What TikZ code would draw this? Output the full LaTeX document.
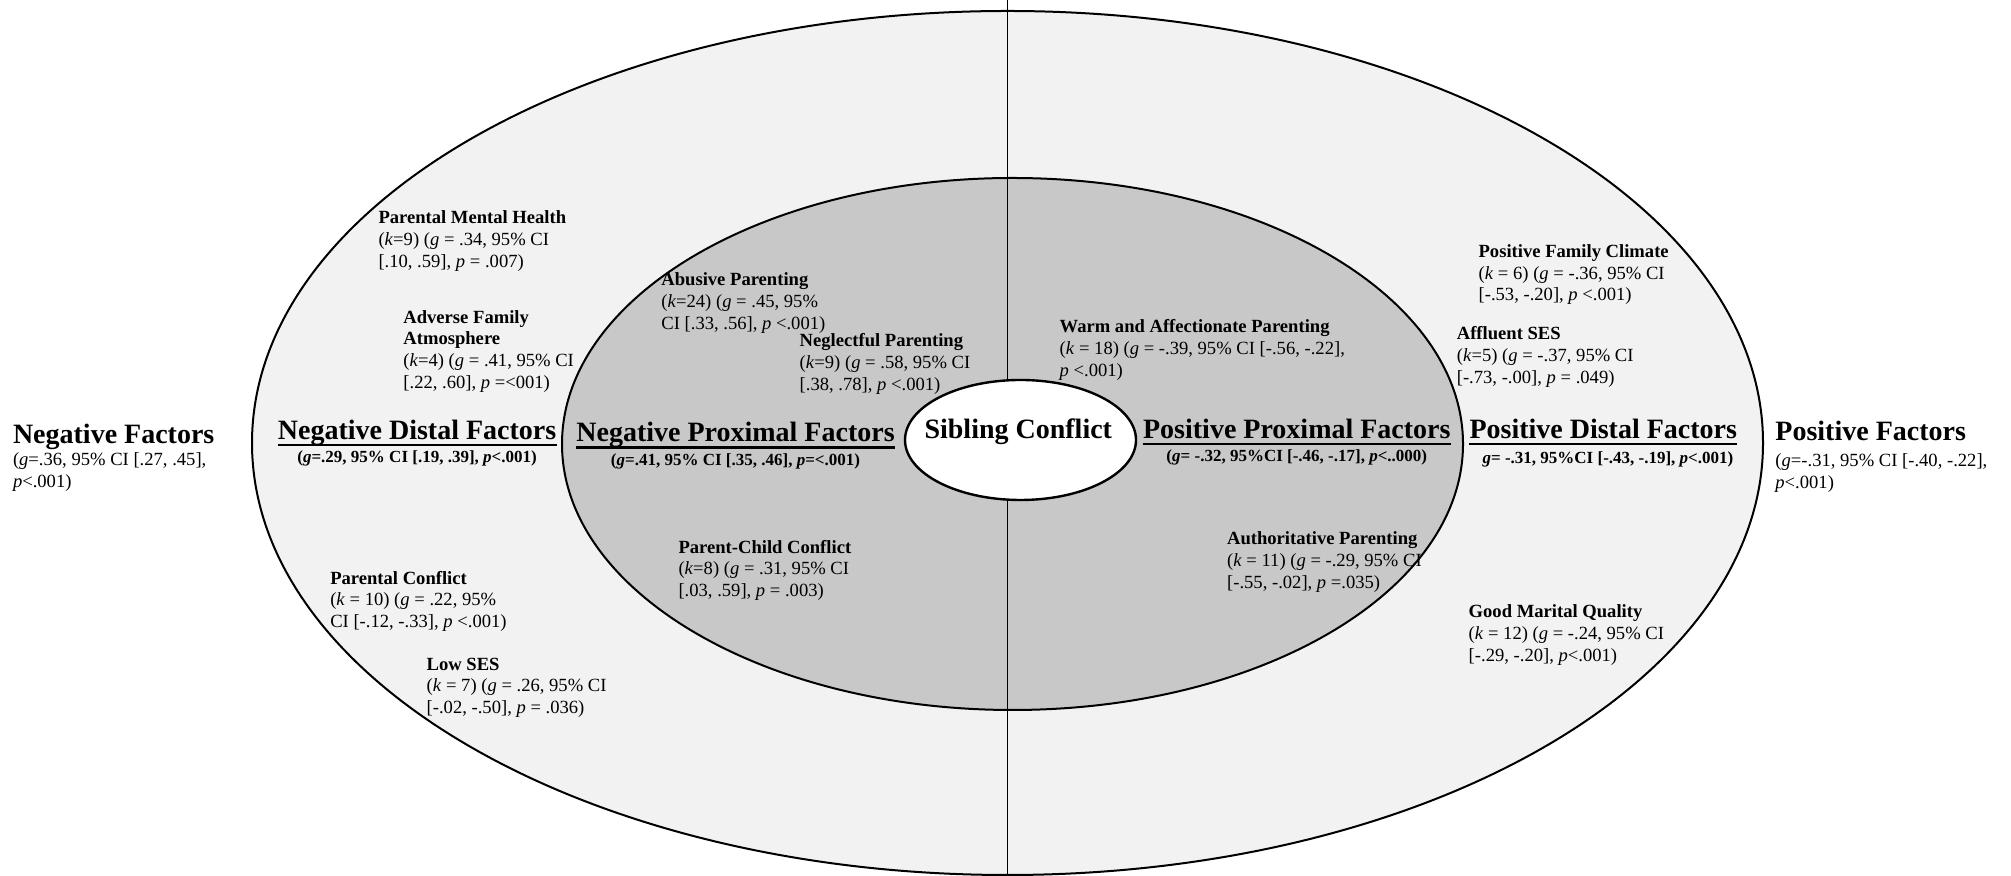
\documentclass[tikz,border=0pt]{standalone}
\usepackage{fontspec}
\setmainfont{Liberation Serif}
\usetikzlibrary{shapes.geometric}

\definecolor{distalgray}{RGB}{242,242,242}
\definecolor{proximalgray}{RGB}{200,200,200}

\newcommand{\factorlines}[1]{\begin{tabular}[t]{@{}l@{}}#1\end{tabular}}

\tikzset{
  ring/.style={ellipse, draw, line width=1pt, inner sep=0pt},
  heading/.style={anchor=base west, inner sep=0pt, font=\bfseries\fontsize{14}{14}\selectfont},
  stats/.style={anchor=base, inner sep=0pt, font=\bfseries\fontsize{8.5}{10}\selectfont},
  factor/.style={anchor=base west, inner sep=0pt, font=\fontsize{9.3}{10.85}\selectfont},
}

\begin{document}
\begin{tikzpicture}[x=0.5pt, y=0.5pt]
    \useasboundingbox (0,0) rectangle (2011,876);

    % Draw the two rings
    \node (outerring) [ring, fill=distalgray, minimum width=755.5pt, minimum height=432pt] at (1007.5,433) {};
    \node (innerring) [ring, fill=proximalgray, minimum width=450.5pt, minimum height=266pt] at (1012.5,432) {};

    % Split negative and positive halves
    \coordinate (top) at (1007,876);
    \coordinate (bottom) at (1007,0);
    \draw[line width=0.5pt] (top) -- (bottom);

    % The centre
    \node (sib) [ring, fill=white, line width=1.2pt, minimum width=115.5pt, minimum height=60pt] at (1020.5,436) {};
    \node (sibtext) [heading, anchor=base] at (1018.3,437) {Sibling Conflict};

    % Headings of the halves and rings
    \node (negF) [heading] at (12.6,432.5) {Negative Factors};
    \node (negFstats) [factor] at (12.6,410) {\factorlines{(\textit{g}=.36, 95\% CI [.27, .45],\\\textit{p}<.001)}};
    \node (negD) [heading] at (277.5,436.5) {Negative Distal Factors};
    \node (negP) [heading] at (576,434) {Negative Proximal Factors};
    \node (posP) [heading] at (1142.7,437.3) {Positive Proximal Factors};
    \node (posD) [heading] at (1469.1,437.3) {Positive Distal Factors};
    \node (posF) [heading] at (1775,435.7) {Positive Factors};
    \node (posFstats) [factor] at (1775,409.3) {\factorlines{(\textit{g}=-.31, 95\% CI [-.40, -.22],\\\textit{p}<.001)}};

    % Underline the ring headings
    \foreach \n in {negD,negP,posP,posD}
        \draw[line width=1.1pt] ([yshift=-2.8pt]\n.base west) -- ([yshift=-2.8pt]\n.base east);

    % Pooled effects of the rings
    \node (negDstats) [stats] at ([yshift=-11.7pt]negD.base) {(\textit{g}=.29, 95\% CI [.19, .39], \textit{p}<.001)};
    \node (negPstats) [stats] at ([yshift=-11.65pt]negP.base) {(\textit{g}=.41, 95\% CI [.35, .46], \textit{p}=<.001)};
    \node (posPstats) [stats] at ([yshift=-11.65pt]posP.base) {(\textit{g}= -.32, 95\%CI [-.46, -.17], \textit{p}<..000)};
    \node (posDstats) [stats] at ([xshift=2.35pt, yshift=-12.5pt]posD.base) {\textit{g}= -.31, 95\%CI [-.43, -.19], \textit{p}<.001)};

    % Negative distal factors
    \node (pmh) [factor] at (378.1,652.3) {\factorlines{\textbf{Parental Mental Health}\\(\textit{k}=9) (\textit{g} = .34, 95\% CI\\{}[.10, .59], \textit{p} = .007)}};
    \node (afa) [factor] at (403,552.7) {\factorlines{\textbf{Adverse Family}\\\textbf{Atmosphere}\\(\textit{k}=4) (\textit{g} = .41, 95\% CI\\{}[.22, .60], \textit{p} =<001)}};
    \node (parc) [factor] at (329.9,291.7) {\factorlines{\textbf{Parental Conflict}\\(\textit{k} = 10) (\textit{g} = .22, 95\%\\CI [-.12, -.33], \textit{p} <.001)}};
    \node (lses) [factor] at (426.3,205.7) {\factorlines{\textbf{Low SES}\\(\textit{k} = 7) (\textit{g} = .26, 95\% CI\\{}[-.02, -.50], \textit{p} = .036)}};

    % Negative proximal factors
    \node (abp) [factor] at (661,590) {\factorlines{\textbf{Abusive Parenting}\\(\textit{k}=24) (\textit{g} = .45, 95\%\\CI [.33, .56], \textit{p} <.001)}};
    \node (nglp) [factor] at (799.3,529.3) {\factorlines{\textbf{Neglectful Parenting}\\(\textit{k}=9) (\textit{g} = .58, 95\% CI\\{}[.38, .78], \textit{p} <.001)}};
    \node (pcc) [factor] at (678.1,322.7) {\factorlines{\textbf{Parent-Child Conflict}\\(\textit{k}=8) (\textit{g} = .31, 95\% CI\\{}[.03, .59], \textit{p} = .003)}};

    % Positive proximal factors
    \node (warm) [factor] at (1059.3,543.3) {\factorlines{\textbf{Warm and Affectionate Parenting}\\(\textit{k} = 18) (\textit{g} = -.39, 95\% CI [-.56, -.22],\\\textit{p} <.001)}};
    \node (auth) [factor] at (1226.7,331) {\factorlines{\textbf{Authoritative Parenting}\\(\textit{k} = 11) (\textit{g} = -.29, 95\% CI\\{}[-.55, -.02], \textit{p} =.035)}};

    % Positive distal factors
    \node (pfc) [factor] at (1478.2,618.5) {\factorlines{\textbf{Positive Family Climate}\\(\textit{k} = 6) (\textit{g} = -.36, 95\% CI\\{}[-.53, -.20], \textit{p} <.001)}};
    \node (aff) [factor] at (1456.4,536.3) {\factorlines{\textbf{Affluent SES}\\(\textit{k}=5) (\textit{g} = -.37, 95\% CI\\{}[-.73, -.00], \textit{p} = .049)}};
    \node (gmq) [factor] at (1468.3,258.3) {\factorlines{\textbf{Good Marital Quality}\\(\textit{k} = 12) (\textit{g} = -.24, 95\% CI\\{}[-.29, -.20], \textit{p}<.001)}};
\end{tikzpicture}
\end{document}
